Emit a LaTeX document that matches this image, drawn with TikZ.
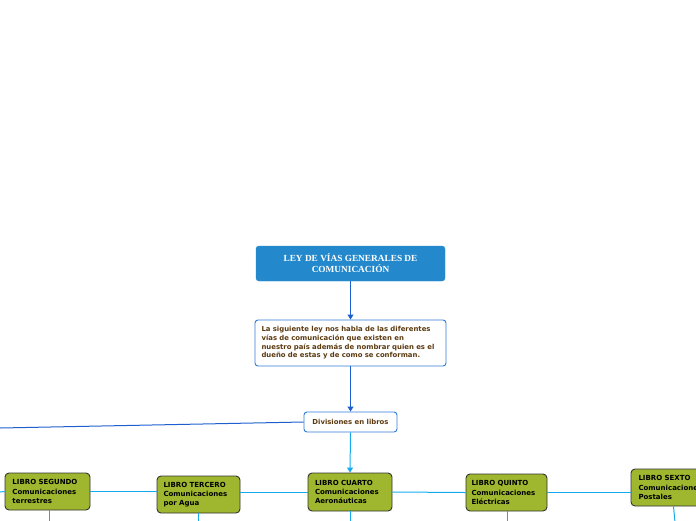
\documentclass[tikz,border=0pt]{standalone}
\usepackage{fontspec}
\newfontfamily\vfont{DejaVu Sans}
\newfontfamily\tfont{Liberation Serif}
\usetikzlibrary{arrows.meta}
\definecolor{titleblue}{RGB}{35,137,204}
\definecolor{darkline}{RGB}{30,95,207}
\definecolor{lightline}{RGB}{20,170,240}
\definecolor{boxborder}{RGB}{46,123,214}
\definecolor{brownt}{RGB}{92,58,16}
\definecolor{olive}{RGB}{159,183,46}
\tikzset{
  titlebox/.style={draw=titleblue, fill=titleblue, rounded corners=3pt, minimum width=189pt, minimum height=35pt, inner sep=0pt, text=white, align=center, font=\tfont\bfseries\fontsize{9.3}{11}\selectfont},
  whitebox/.style={draw=boxborder, line width=0.9pt, fill=white, rounded corners=3pt, inner sep=0pt, text=brownt, font=\vfont\bfseries\fontsize{6.9}{8.7}\selectfont},
  bookbox/.style={draw=black!80, line width=0.9pt, fill=olive, rounded corners=4pt, inner sep=0pt, text=black, align=left, text width=70pt, font=\vfont\bfseries\fontsize{7}{9.2}\selectfont},
  darkarrow/.style={draw=darkline, line width=1pt, -{Triangle[width=6pt,length=5pt]}},
  darkedge/.style={draw=darkline, line width=1pt},
  lightarrow/.style={draw=lightline, line width=1pt, -{Triangle[width=6pt,length=5pt]}},
  lightedge/.style={draw=lightline, line width=1pt}
}
\begin{document}
\begin{tikzpicture}[x=1pt,y=-1pt]
\useasboundingbox (0,0) rectangle (696,520);
\clip (0,0) rectangle (696,520);
\node[titlebox] (title) at (350.5,263.5) {LEY DE VÍAS GENERALES DE\\COMUNICACIÓN};
\node[whitebox, minimum width=191pt, minimum height=46pt, text width=178pt, align=left] (desc) at (350.5,343) {La siguiente ley nos habla de las diferentes\\vías de comunicación que existen en\\nuestro país además de nombrar quien es el\\dueño de estas y de como se conforman.};
\node[whitebox, minimum width=93pt, minimum height=20pt, align=center] (div) at (350.5,422) {Divisiones en libros};
\node[bookbox, minimum width=85pt, minimum height=37pt] (seg) at (47.5,491.5) {LIBRO SEGUNDO\\Comunicaciones\\terrestres};
\node[bookbox, minimum width=83pt, minimum height=37pt] (ter) at (198.5,494.5) {LIBRO TERCERO\\Comunicaciones\\por Agua};
\node[bookbox, minimum width=84pt, minimum height=38pt] (cua) at (350,492) {LIBRO CUARTO\\Comunicaciones\\Aeronáuticas};
\node[bookbox, minimum width=81pt, minimum height=37pt] (qui) at (506.5,492.5) {LIBRO QUINTO\\Comunicaciones\\Eléctricas};
\node[bookbox, minimum width=85pt, minimum height=37pt] (sex) at (673.5,487.5) {LIBRO SEXTO\\Comunicaciones\\Postales};
\coordinate (leftdark) at (0,428);
\coordinate (leftlight) at (0,492);
\coordinate (segdown) at (49,522);
\coordinate (terdown) at (198,522);
\coordinate (cuadown) at (350,522);
\coordinate (quidown) at (507,522);
\coordinate (sexdown) at (675,522);
\draw[darkarrow] (title.south) -- (desc.north);
\draw[darkarrow] (desc.south) -- (div.north);
\draw[darkedge] (div.west) -- (leftdark);
\draw[lightarrow] (div.south) -- (cua.north);
\draw[lightedge] (leftlight) -- (seg.west);
\draw[lightedge] (seg.east) -- (seg.east -| ter.west);
\draw[lightedge] (ter.east |- cua.west) -- (cua.west);
\draw[lightedge] (cua.east) -- (qui.west);
\draw[lightedge] (qui.east) -- (qui.east -| sex.west);
\draw[lightedge] (seg.south -| segdown) -- (segdown);
\draw[lightedge] (ter.south -| terdown) -- (terdown);
\draw[lightedge] (cua.south) -- (cuadown);
\draw[lightedge] (qui.south -| quidown) -- (quidown);
\draw[lightedge] (sex.south) -- (sexdown);
\end{tikzpicture}
\end{document}
